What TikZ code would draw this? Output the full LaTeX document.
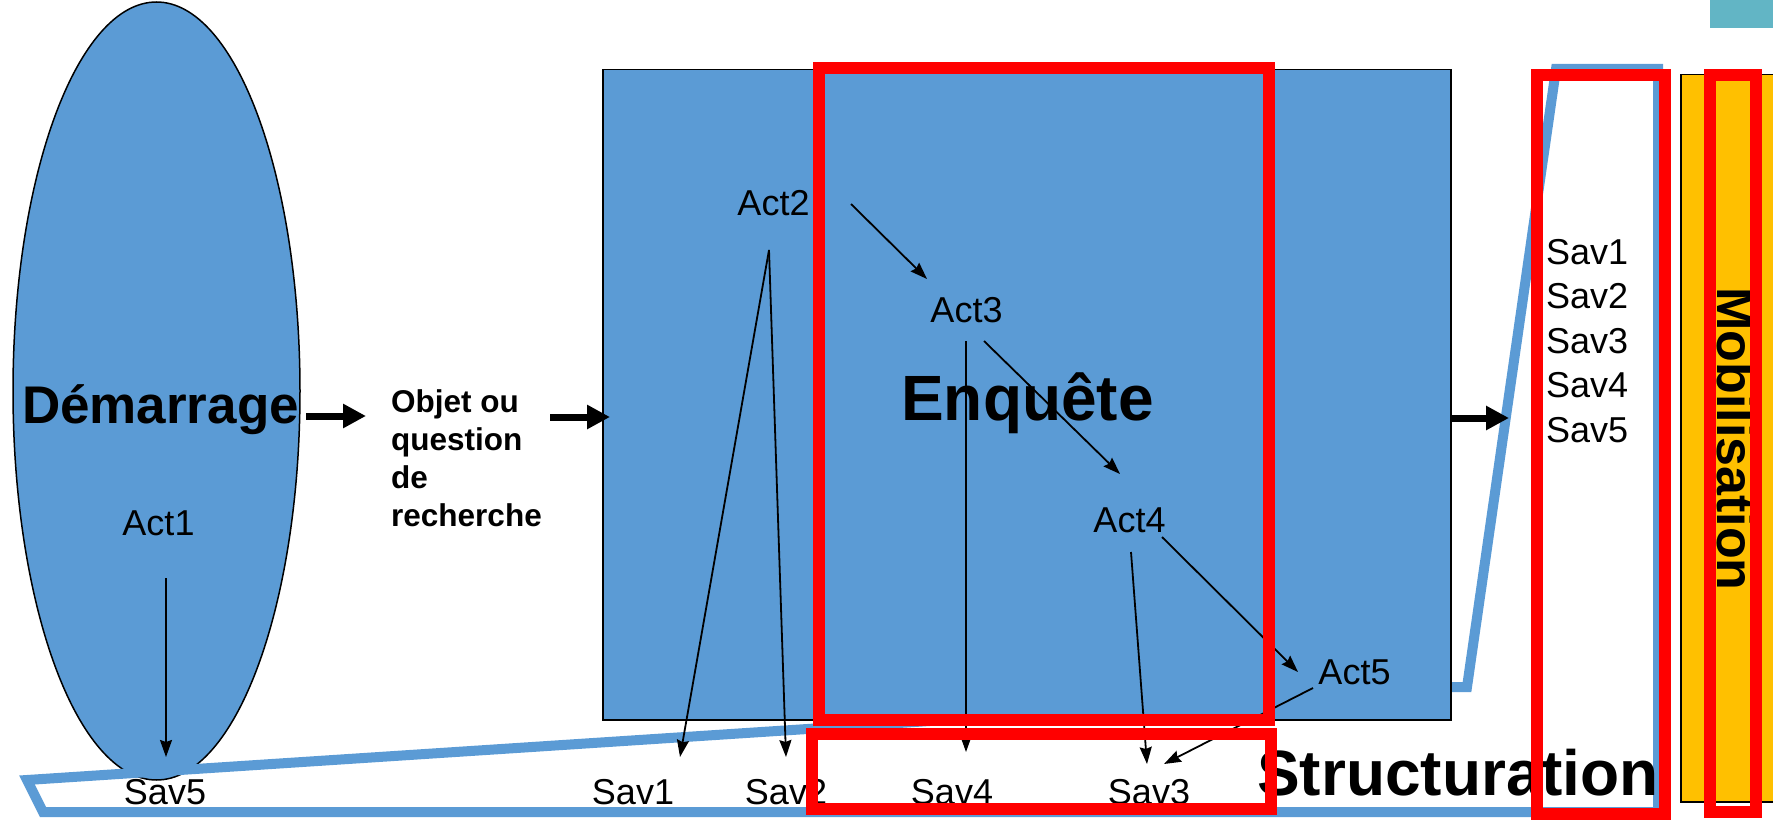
\documentclass[tikz,border=0pt]{standalone}
\usepackage{fontspec}
\setmainfont{Liberation Sans}
\usetikzlibrary{arrows.meta,shapes.geometric}
\definecolor{boxblue}{HTML}{5B9BD5}
\definecolor{hlred}{HTML}{FF0000}
\definecolor{mobor}{HTML}{FFC000}
\definecolor{tealtab}{HTML}{62B5C5}

\begin{document}
\begin{tikzpicture}[x=1pt,y=-1pt,
  lbl/.style={font=\fontsize{36}{43}\selectfont, inner sep=0pt, anchor=base},
  heading/.style={font=\fontsize{64}{77}\selectfont\bfseries, inner sep=0pt, anchor=base},
  flow/.style={-{Stealth[length=17pt,width=12pt,inset=2pt]}, line width=1.8pt},
  bigarrow/.style={-{Triangle[length=23pt,width=23pt]}, line width=7pt},
  hilite/.style={draw=hlred, line width=12pt},
  band/.style={draw=boxblue, line width=10pt, line join=miter},
  phase/.style={draw=black, fill=boxblue, line width=1.5pt},
]
\useasboundingbox (0,0) rectangle (1773,821);
\begin{scope}
\clip (0,0) rectangle (1773,821);

% corner tab
\fill[tealtab] (1710,0) rectangle (1773,28);

% starting phase
\node[phase, ellipse, inner sep=0pt, minimum width=287pt, minimum height=778pt] (start) at (156.5,391) {};

% structuring band wrapping the bottom and the list of knowledge
\draw[band] (1450,687) -- (1467,687) -- (1556,69) -- (1658,69) -- (1658,812)
  -- (43,812) -- (27,780) -- cycle;

% investigation phase
\node[phase, anchor=north west, inner sep=0pt, minimum width=848pt, minimum height=650pt] (inq) at (602,69) {};

% mobilisation column
\node[draw=black, fill=mobor, line width=1.5pt, anchor=north west, inner sep=0pt,
  minimum width=120pt, minimum height=727pt] (mobbox) at (1680,74) {};

% labels
\node[heading, font=\fontsize{53}{64}\selectfont\bfseries] (dem) at (160.5,423) {Démarrage};
\node[lbl] (act1) at (158.5,535) {Act1};
\node[lbl] (sav5) at (165,804) {Sav5};

\node[font=\fontsize{31.5}{38.3}\selectfont\bfseries, align=left, inner sep=0pt, anchor=north west]
  (obj) at (391,389) {Objet ou\\question\\de\\recherche};

\node[heading] (enq) at (1027.5,420) {Enquête};
\node[lbl] (act2) at (773.5,216) {Act2};
\node[lbl] (act3) at (966.5,322) {Act3};
\node[lbl] (act4) at (1129.5,532) {Act4};
\node[lbl] (act5) at (1354.5,684) {Act5};

\node[lbl] (sav1) at (633,804) {Sav1};
\node[lbl] (sav2) at (786,804) {Sav2};
\node[lbl] (sav4) at (952,804) {Sav4};
\node[lbl] (sav3) at (1149,804) {Sav3};

\node[heading] (struct) at (1458,795) {Structuration};

\node[font=\fontsize{36}{44.5}\selectfont, align=left, inner sep=0pt, anchor=north west]
  (savlist) at (1546,239) {Sav1\\Sav2\\Sav3\\Sav4\\Sav5};

\node[font=\fontsize{52}{62}\selectfont\bfseries, inner sep=0pt, anchor=base, rotate=-90]
  (mob) at (1717,439) {Mobilisation};

% arrow end points
\coordinate (a1t) at (166,578);   \coordinate (s5h) at (166,757);
\coordinate (a2r) at (851,204);   \coordinate (a3h) at (927,279);
\coordinate (a2b) at (769,250);
\coordinate (s1h) at (680,757);   \coordinate (s2h) at (786,757);
\coordinate (a3b) at (966,341);   \coordinate (s4h) at (966,752);
\coordinate (a3r) at (984,341);   \coordinate (a4h) at (1120,474);
\coordinate (a4b) at (1131,552);  \coordinate (s3h) at (1147,764);
\coordinate (a4r) at (1162,537);  \coordinate (a5h) at (1298,672);
\coordinate (a5l) at (1313,688);  \coordinate (s3r) at (1164,764);

\draw[flow] (a1t) -- (s5h);
\draw[flow] (a2r) -- (a3h);
\draw[flow] (a2b) -- (s1h);
\draw[flow] (a2b) -- (s2h);
\draw[flow] (a3b) -- (s4h);
\draw[flow] (a3r) -- (a4h);
\draw[flow] (a4b) -- (s3h);
\draw[flow] (a4r) -- (a5h);
\draw[flow] (a5l) -- (s3r);

% main sequence arrows
\coordinate (b1t) at (306,416);  \coordinate (b1h) at (366,416);
\coordinate (b2t) at (550,417);  \coordinate (b2h) at (610,417);
\coordinate (b3t) at (1451,418); \coordinate (b3h) at (1509,418);
\draw[bigarrow] (b1t) -- (b1h);
\draw[bigarrow] (b2t) -- (b2h);
\draw[bigarrow] (b3t) -- (b3h);

% highlight frames
\draw[hilite] (819,68) rectangle (1269,720);
\draw[hilite] (812,734) rectangle (1271,809);
\draw[hilite] (1537,75) rectangle (1665,814);
\draw[hilite] (1710,75) rectangle (1756,812);
\end{scope}
\end{tikzpicture}
\end{document}
